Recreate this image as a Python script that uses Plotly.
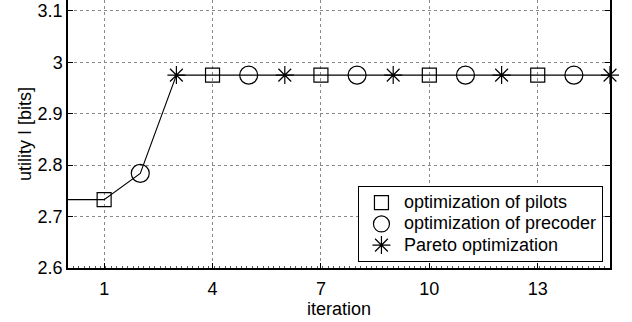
import plotly.graph_objects as go

# Data
iterations = list(range(0, 16))
utility = [2.733, 2.733, 2.784, 2.975, 2.975, 2.975, 2.975, 2.975,
           2.975, 2.975, 2.975, 2.975, 2.975, 2.975, 2.975, 2.975]
pilot_iters = [1, 4, 7, 10, 13]
precoder_iters = [2, 5, 8, 11, 14]
pareto_iters = [3, 6, 9, 12, 15]
x_ticks = [1, 4, 7, 10, 13]
y_ticks = [2.6, 2.7, 2.8, 2.9, 3.0, 3.1]
y_ticklabels = ["2.6", "2.7", "2.8", "2.9", "3", "3.1"]
series_names = ["optimization of pilots", "optimization of precoder", "Pareto optimization"]

FONT = "Liberation Sans, Arial, Helvetica, sans-serif"

fig = go.Figure()
fig.add_trace(go.Scatter(x=iterations, y=utility, mode="lines",
                         line=dict(color="black", width=1.1),
                         showlegend=False, hoverinfo="skip", cliponaxis=False))

def vals(idx):
    return [utility[iterations.index(i)] for i in idx]

def lbl(s):
    return '<span style="font-size:18px">' + s + '</span>'

fig.add_trace(go.Scatter(x=pilot_iters, y=vals(pilot_iters), mode="markers",
                         name=lbl(series_names[0]), cliponaxis=False,
                         marker=dict(symbol="square-open", size=14, color="black",
                                     line=dict(width=1.2, color="black"))))
fig.add_trace(go.Scatter(x=precoder_iters, y=vals(precoder_iters), mode="markers",
                         name=lbl(series_names[1]), cliponaxis=False,
                         marker=dict(symbol="circle-open", size=18, color="black",
                                     line=dict(width=1.2, color="black"))))
fig.add_trace(go.Scatter(x=pareto_iters, y=vals(pareto_iters), mode="markers",
                         name=lbl(series_names[2]), cliponaxis=False,
                         marker=dict(symbol="asterisk-open", size=15, color="black",
                                     line=dict(width=1.2, color="black"))))

fig.update_layout(
    width=632, height=322,
    margin=dict(l=68, r=22, t=0, b=54),
    paper_bgcolor="white", plot_bgcolor="white",
    font=dict(family=FONT, size=18, color="black"),
    legend=dict(x=0.987, y=0.022, xanchor="right", yanchor="bottom",
                bgcolor="white", bordercolor="black", borderwidth=1,
                font=dict(size=14), itemwidth=35, tracegroupgap=0),
    xaxis=dict(range=[0, 15], tickvals=x_ticks, ticks="inside", ticklen=5,
               tickcolor="black", showline=True, linecolor="black", linewidth=1.5,
               mirror=False, showgrid=True, gridcolor="#8a8a8a", griddash="dot",
               gridwidth=1, zeroline=False, ticklabelstandoff=4,
               minor=dict(ticks="inside", ticklen=2, dtick=0.15, tick0=0,
                          tickcolor="#555", showgrid=False),
               title=dict(text="iteration", standoff=2, font=dict(size=18)),
               tickfont=dict(size=18)),
    yaxis=dict(range=[2.6, 3.121], tickvals=y_ticks, ticktext=y_ticklabels,
               ticks="inside", ticklen=5, tickcolor="black", showline=True,
               linecolor="black", linewidth=1.5, mirror="ticks", showgrid=True,
               gridcolor="#8a8a8a", griddash="dot", gridwidth=1, zeroline=False,
               title=dict(text="utility I [bits]", standoff=1, font=dict(size=18)),
               tickfont=dict(size=18)),
)

fig.write_html("out.html")
